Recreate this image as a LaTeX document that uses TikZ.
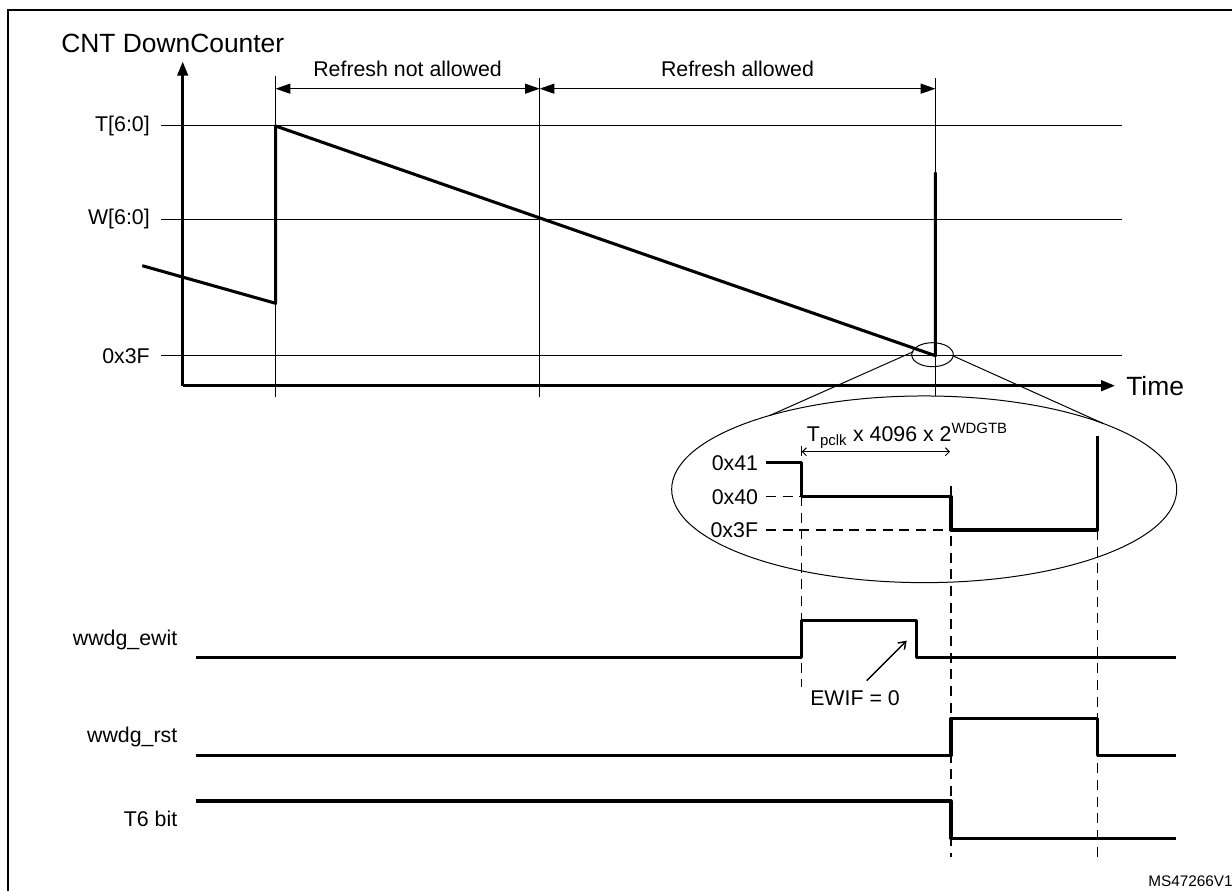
\documentclass[tikz,border=0pt]{standalone}
\usepackage{fontspec}
\setmainfont{Liberation Sans}
\usetikzlibrary{arrows.meta,shapes.geometric}
\begin{document}
\begin{tikzpicture}[x=0.75pt,y=-0.75pt,
  thinline/.style={line width=0.75pt},
  sig/.style={line width=2.3pt, line join=round},
  axisline/.style={line width=1.9pt},
  dsh/.style={line width=0.8pt, dash pattern=on 7.5pt off 5pt},
  lbl/.style={font=\fontsize{16}{18}\selectfont, inner sep=0pt},
  biglbl/.style={font=\fontsize{19.8}{22}\selectfont, inner sep=0pt},
  tinylbl/.style={font=\fontsize{11.5}{13}\selectfont, inner sep=0pt},
  dimarrow/.style={thinline, {Triangle[length=11pt,width=7.5pt]}-{Triangle[length=11pt,width=7.5pt]}},
  smallarrow/.style={thinline, {Straight Barb[length=3pt,width=6pt]}-{Straight Barb[length=3pt,width=6pt]}},
]
\useasboundingbox (0,0) rectangle (1232,891);
% frame
\draw[line width=1.5pt] (8,891) -- (8,10) -- (1240,10);

% axes
\coordinate (origin) at (182.7,385.7);
\coordinate (ytip) at (182.7,61.7);
\coordinate (xtip) at (1115,385.7);
\draw[axisline, -{Triangle[length=10.5pt,width=8pt]}] (origin) -- (ytip);
\draw[axisline, -{Triangle[length=10.5pt,width=8pt]}] (origin) -- (xtip);
\node[biglbl, anchor=west] (cnt) at (61,43) {CNT DownCounter};
\node[biglbl, anchor=west] (time) at (1126,385.7) {Time};

% level lines
\coordinate (tl) at (161,126);   \coordinate (tr) at (1121.6,126);
\coordinate (wl) at (161,219.3); \coordinate (wr) at (1121.6,219.3);
\coordinate (fl) at (161,355.7); \coordinate (fr) at (1121.6,355.7);
\draw[thinline] (tl) -- (tr);
\draw[thinline] (wl) -- (wr);
\draw[thinline] (fl) -- (fr);
\node[lbl, anchor=east] (tlab) at (150,126) {T[6:0]};
\node[lbl, anchor=east] (wlab) at (150,219.3) {W[6:0]};
\node[lbl, anchor=east] (flab) at (150,355.7) {0x3F};

% vertical markers
\coordinate (v1t) at (275.6,76); \coordinate (v1b) at (275.6,397);
\coordinate (v2t) at (539.7,78); \coordinate (v2b) at (539.7,397);
\coordinate (v3t) at (935.4,78); \coordinate (v3b) at (935.4,396);
\draw[thinline] (v1t) -- (v1b);
\draw[thinline] (v2t) -- (v2b);
\draw[thinline] (v3t) -- (v3b);

% refresh windows
\coordinate (a1) at (275.6,88.7);
\coordinate (a2) at (539.7,88.7);
\coordinate (a3) at (935.4,88.7);
\draw[dimarrow] (a1) -- (a2);
\draw[dimarrow] (a2) -- (a3);
\node[lbl] (rna) at (407.6,69) {Refresh not allowed};
\node[lbl] (ra) at (737.5,69) {Refresh allowed};

% counter sawtooth
\coordinate (s0) at (142.3,265.7);
\coordinate (s1) at (275.6,303.3);
\coordinate (s2) at (275.6,126);
\coordinate (s3) at (935.4,355.7);
\coordinate (s4) at (935.4,172.3);
\draw[sig] (s0) -- (s1) -- (s2) -- (s3) -- (s4);

% zoom ellipses
\node[draw, thinline, ellipse, minimum width=31.2pt, minimum height=18pt, inner sep=0pt] (zs) at (932.5,354.7) {};
\node[draw, thinline, ellipse, minimum width=378.8pt, minimum height=140pt, inner sep=0pt] (zb) at (924.2,489.3) {};
\coordinate (zsl) at (913.3,351.7);
\coordinate (zbl) at (770,415.4);
\coordinate (zsr) at (953.3,356);
\coordinate (zbr) at (1103,423.4);
\draw[thinline] (zsl) -- (zbl);
\draw[thinline] (zsr) -- (zbr);

% dashed verticals
\coordinate (d1t) at (801.7,446);  \coordinate (d1b) at (801.7,687);
\coordinate (d2t) at (951,486);    \coordinate (d2b) at (951,857);
\coordinate (d3t) at (1097.7,530); \coordinate (d3b) at (1097.7,857);
\draw[dsh] (d1t) -- (d1b);
\draw[dsh] (d2t) -- (d2b);
\draw[dsh] (d3t) -- (d3b);

% zoomed counter
\node[lbl, anchor=east] (z41) at (758.3,462.7) {0x41};
\node[lbl, anchor=east] (z40) at (758.3,496.7) {0x40};
\node[lbl, anchor=east] (z3f) at (758.3,530) {0x3F};
\draw[dsh] (766,496.7) -- (801.7,496.7);
\draw[dsh] (766,530) -- (951,530);
\draw[sig] (766,462.7) -- (801.7,462.7) -- (801.7,496.7) -- (951,496.7) -- (951,530) -- (1097.7,530) -- (1097.7,436);
\coordinate (p1) at (801.7,451.7);
\coordinate (p2) at (950,451.7);
\draw[smallarrow] (p1) -- (p2);
\node[lbl, anchor=base west] (tpclk) at (806.7,441.7) {T\textsubscript{pclk} x 4096 x 2\textsuperscript{WDGTB}};

% signals
\node[lbl, anchor=east] (ewit) at (177.5,640) {wwdg\_ewit};
\node[lbl, anchor=east] (rst) at (177.5,736.7) {wwdg\_rst};
\node[lbl, anchor=east] (t6) at (177.5,819) {T6 bit};
\draw[sig] (196,657.7) -- (801.7,657.7) -- (801.7,620.7) -- (916.7,620.7) -- (916.7,657.7) -- (1176,657.7);
\draw[sig] (196,755.7) -- (951,755.7) -- (951,718.3) -- (1097.7,718.3) -- (1097.7,755.7) -- (1176,755.7);
\draw[sig] (196,801) -- (951,801) -- (951,838.3) -- (1176,838.3);

\node[lbl] (ewif) at (855,698.3) {EWIF = 0};
\coordinate (ea) at (866.7,680.7);
\coordinate (eb) at (906.7,640.7);
\draw[line width=1.1pt, -{Straight Barb[length=5pt,width=7pt]}] (ea) -- (eb);

\node[tinylbl, anchor=west] (ms) at (1148,881.7) {MS47266V1};
\end{tikzpicture}
\end{document}
